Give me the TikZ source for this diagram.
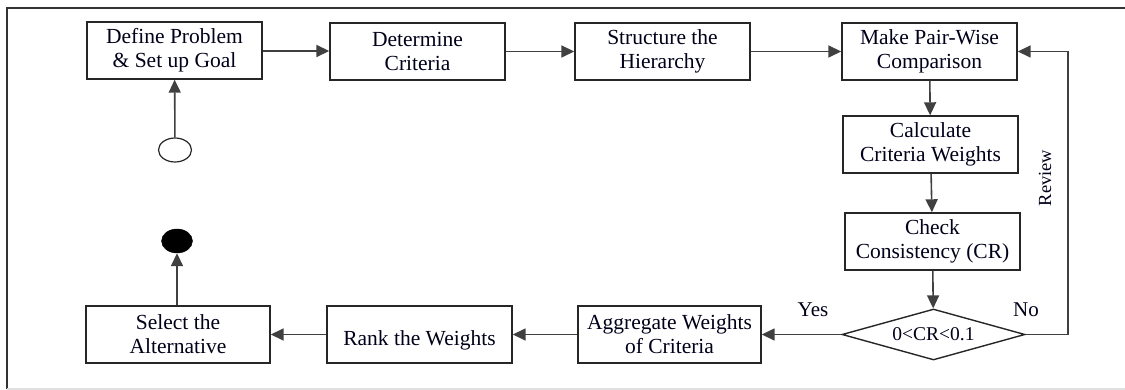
\documentclass[tikz,border=0pt]{standalone}
\usepackage{fontspec}
\setmainfont{Liberation Serif}
\usetikzlibrary{arrows.meta,shapes.geometric}
\begin{document}
\begin{tikzpicture}[x=1pt,y=-1pt,
  every node/.style={font=\fontsize{21.5}{24}\selectfont, text=black!90!blue},
  box/.style={draw=black!85, line width=1.4pt, minimum width=175pt, minimum height=57pt, inner sep=0pt, align=center},
  dec/.style={draw=black!85, line width=1.4pt, diamond, aspect=3.6, minimum width=183pt, minimum height=51pt, inner sep=0pt, font=\fontsize{19.5}{22}\selectfont},
  conn/.style={draw=black!75, line width=1.6pt, -{Triangle[length=13pt,width=12pt]}},
  lbl/.style={font=\fontsize{21}{24}\selectfont}
]
\useasboundingbox (0,0) rectangle (1125,390);
% frame
\draw[black!80, line width=1.2pt] (7,389) -- (7,8) -- (1125,8);
\draw[black!12, line width=1.2pt] (7,389) -- (1125,389);

\node[box] (def) at (174.5,50.5) {Define Problem\\\& Set up Goal};
\node[box] (det) at (417.5,51.5) {Determine\\Criteria};
\node[box] (str) at (662.5,51.5) {Structure the\\Hierarchy};
\node[box] (pair) at (929.5,51.5) {Make Pair-Wise\\Comparison};
\node[box] (calc) at (930.5,144.5) {Calculate\\Criteria Weights};
\node[box] (chk) at (932.5,241.5) {Check\\Consistency (CR)};
\node[dec] (dia) at (933.5,334.5) {0<CR<0.1};
\node[box, minimum width=183pt] (agg) at (669.5,334.5) {Aggregate Weights\\of Criteria};
\node[box, minimum width=185pt] (rank) at (419.5,334.5) {};
\node at (419.5,340) {Rank the Weights};
\node[box, minimum width=184pt] (sel) at (178,334.5) {Select the\\Alternative};

\node[draw=black!85, line width=1.2pt, ellipse, minimum width=33pt, minimum height=24pt, inner sep=0pt] (start) at (175,150) {};
\node[draw=black, fill=black, ellipse, minimum width=31pt, minimum height=24pt, inner sep=0pt] (stop) at (177,241) {};

\coordinate (r1) at (1068,334.5);
\coordinate (r2) at (1068,51.5);

\draw[conn] (start) -- (def);
\draw[conn] (def.east |- 0,51) -- (det.west |- 0,51);
\draw[conn] (det) -- (str);
\draw[conn] (str) -- (pair);
\draw[conn] (pair) -- (calc);
\draw[conn] (calc) -- (chk);
\draw[conn] (chk) -- (dia);
\draw[conn] (dia) -- (agg);
\draw[conn] (agg) -- (rank);
\draw[conn] (rank) -- (sel);
\draw[conn] (sel.north -| stop) -- (stop);
\draw[conn] (dia.east) -- (r1) -- (r2) -- (pair.east);

\node[lbl] (yes) at (813,310) {Yes};
\node[lbl] (no) at (1026,310) {No};
\node[font=\fontsize{18.5}{20}\selectfont, rotate=90] (rev) at (1045,178) {Review};
\end{tikzpicture}
\end{document}
